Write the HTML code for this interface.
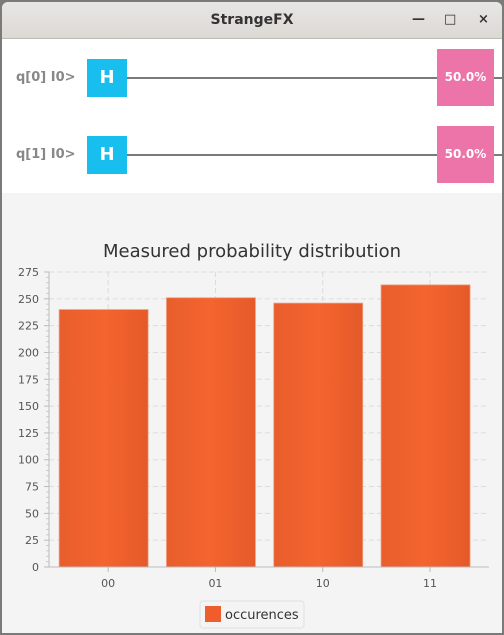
<!DOCTYPE html>
<html><head><meta charset="utf-8"><style>
body{margin:0;width:504px;height:635px;overflow:hidden;font-family:"Liberation Sans","DejaVu Sans",sans-serif;background:#7a7a7a}
#win{position:absolute;left:2px;top:2px;width:500px;height:631px;background:#f4f4f4;border-radius:6px 6px 0 0;overflow:hidden}
#titlebar{position:absolute;left:0;top:0;width:500px;height:36px;background:linear-gradient(#e8e6e3,#dcd9d5);border-bottom:1px solid #bdb9b4;text-align:center;line-height:36px;font-weight:bold;font-size:14px;color:#333;font-family:"DejaVu Sans",sans-serif}
.wbtn{position:absolute;top:0;font-size:13px;color:#333}
#circuit{position:absolute;left:0;top:37px;width:500px;height:154px;background:#fff}
.qlabel{position:absolute;left:14px;font-weight:bold;font-size:13px;color:#888;font-family:"DejaVu Sans",sans-serif}
.wire{position:absolute;left:125px;width:375px;height:2px;background:#7a7a7a}
.hgate{position:absolute;left:85px;width:40px;height:38px;background:#18bfee;color:#fff;font-weight:bold;font-size:18px;text-align:center;line-height:38px;font-family:"DejaVu Sans",sans-serif}
.meas{position:absolute;left:435px;width:57px;height:57px;background:#ec74a8;color:#fff;font-weight:bold;font-size:12px;text-align:center;line-height:57px;font-family:"DejaVu Sans",sans-serif}
</style></head><body>
<div id="win">
<div id="titlebar">StrangeFX
<span class="wbtn" style="left:410px">&#8212;</span>
<span class="wbtn" style="left:442px">&#9633;</span>
<span class="wbtn" style="left:476px">&#215;</span>
</div>
<div id="circuit">
<div class="qlabel" style="top:31px">q[0] I0&gt;</div>
<div class="wire" style="top:38px"></div>
<div class="hgate" style="top:20px">H</div>
<div class="meas" style="top:10px">50.0%</div>
<div class="qlabel" style="top:108px">q[1] I0&gt;</div>
<div class="wire" style="top:115px"></div>
<div class="hgate" style="top:97px">H</div>
<div class="meas" style="top:87px">50.0%</div>
</div>
</div>
<svg id="chart" width="504" height="635" style="position:absolute;left:0;top:0">
<defs><linearGradient id="bg" x1="0" x2="1"><stop offset="0" stop-color="#e85e2c"/><stop offset="0.5" stop-color="#f4642e"/><stop offset="1" stop-color="#e55a2a"/></linearGradient></defs>
</svg>
<script>
const categories=["00","01","10","11"];
const occurrences=[240,251,246,263];
const yTicks=[0,25,50,75,100,125,150,175,200,225,250,275];
const seriesName="occurences";
const NS="http://www.w3.org/2000/svg";
const svg=document.getElementById('chart');
const X0=49,X1=489,Y0=567,Y1=272,YMAX=275;
const bandStart=54.5,band=107.3,barShift=-4.5;
function yS(v){return Y0-(v/YMAX)*(Y0-Y1);}
function xC(i){return bandStart+band*(i+0.5);}
function mk(t,a,p){const e=document.createElementNS(NS,t);for(const k in a)e.setAttribute(k,a[k]);(p||svg).appendChild(e);return e;}
let t=mk('text',{x:252,y:257,'text-anchor':'middle','font-size':18,fill:'#333','font-family':'DejaVu Sans, sans-serif'});
t.textContent="Measured probability distribution";


yTicks.forEach(v=>{
 if(v>0){let g=mk('line',{x1:X0,x2:X1,y1:yS(v),y2:yS(v),stroke:'#dcdcdc','stroke-dasharray':'5,3'});
 
 }
 let l=mk('text',{x:39,y:yS(v)+4,'text-anchor':'end','font-size':11,fill:'#555','font-family':'DejaVu Sans, sans-serif'});
 l.textContent=v;
 
 
 mk('line',{x1:X0-5,x2:X0,y1:yS(v),y2:yS(v),stroke:'#bbb'});
});
for(let v=5;v<YMAX;v+=5){if(v%25)mk('line',{x1:X0-3,x2:X0,y1:yS(v),y2:yS(v),stroke:'#ccc'});}
categories.forEach((c,i)=>{
 let g=mk('line',{x1:xC(i),x2:xC(i),y1:Y1,y2:Y0,stroke:'#dcdcdc','stroke-dasharray':'5,3'});
 
 
});
categories.forEach((c,i)=>{
 const bw=89,v=occurrences[i];
 let b=mk('rect',{x:xC(i)+barShift-bw/2,y:yS(v),width:bw,height:Y0-yS(v),fill:'url(#bg)',stroke:'#f0a080','stroke-width':0.8});
 
 
 mk('line',{x1:xC(i),x2:xC(i),y1:Y0,y2:Y0+5,stroke:'#bbb'});
 let l=mk('text',{x:xC(i),y:587,'text-anchor':'middle','font-size':11,fill:'#555','font-family':'DejaVu Sans, sans-serif'});
 l.textContent=c;
 
 
});
mk('line',{x1:X0,x2:X0,y1:Y1,y2:Y0,stroke:'#bbb'});
mk('line',{x1:X0,x2:X1,y1:Y0,y2:Y0,stroke:'#bbb'});
let lg=mk('g',{});


mk('rect',{x:200,y:601,width:104,height:27,rx:3,fill:'#f4f4f4',stroke:'#e0e0e0'},lg);
mk('rect',{x:205,y:606,width:16,height:16,fill:'#ee5d2b'},lg);
let lt=mk('text',{x:225,y:619,'font-size':13,fill:'#333','font-family':'DejaVu Sans, sans-serif'},lg);
lt.textContent=seriesName;
</script>
</body></html>
